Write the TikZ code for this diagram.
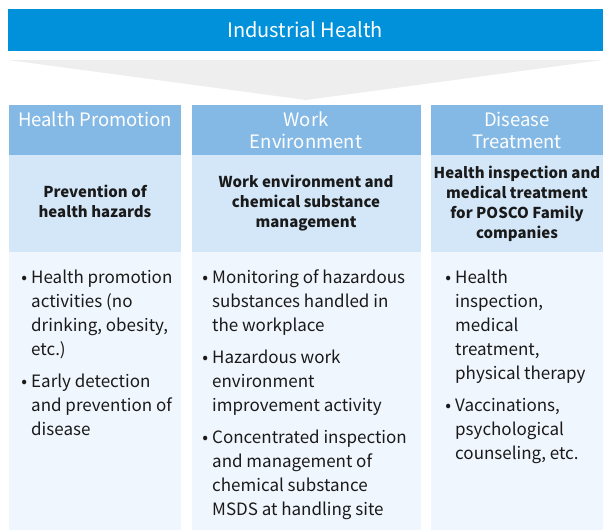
\documentclass[tikz,border=0pt]{standalone}
\usepackage{fontspec}
\setmainfont{Noto Sans CJK KR}
\definecolor{titleblue}{HTML}{0091DA}
\definecolor{headblue}{HTML}{85B9E5}
\definecolor{midblue}{HTML}{D3E7F8}
\definecolor{lowblue}{HTML}{F0F6FD}
\definecolor{funnel}{HTML}{EEEEEE}
\definecolor{txt}{HTML}{1A1A1A}
\tikzset{
  headtxt/.style={text=white, font=\fontsize{18.5}{22}\selectfont, inner sep=0pt, anchor=base},
  midtxt/.style={text=txt, font=\bfseries\fontsize{15}{20}\selectfont, inner sep=0pt, anchor=base},
  bul/.style={text=txt, font=\fontsize{17}{24}\selectfont, inner sep=0pt, anchor=base west},
}
\newcommand{\bu}{\makebox[0pt][r]{•\hspace{4pt}}}
\newcommand{\tl}[1]{\begin{tabular}[t]{@{}l@{}}#1\end{tabular}}
\newcommand{\tc}[1]{\begin{tabular}[t]{@{}c@{}}#1\end{tabular}}
\begin{document}
\begin{tikzpicture}[x=1pt,y=-1pt]
\useasboundingbox (0,0) rectangle (603,530);
% title
\fill[titleblue] (8,9) rectangle (603,51);
\node[text=white, font=\fontsize{20}{24}\selectfont, inner sep=0pt, anchor=base] (title) at (305,37) {Industrial Health};
% funnel
\fill[funnel] (8,60) -- (603,60) -- (306,100) -- cycle;
% columns
\foreach \a/\b in {9/181, 192/421, 431/603}{
  \fill[headblue] (\a,105) rectangle (\b,155);
  \fill[midblue] (\a,155) rectangle (\b,252);
  \fill[lowblue] (\a,252) rectangle (\b,530);
}
% headers
\node[headtxt] (h1) at (95,126) {\tc{Health Promotion}};
\node[headtxt] (h2) at (306,126) {\tc{Work\\Environment}};
\node[headtxt] (h3) at (517,126) {\tc{Disease\\Treatment}};
% middles
\node[midtxt] (m1) at (95,197) {\tc{Prevention of\\health hazards}};
\node[midtxt] (m2) at (306,187) {\tc{Work environment and\\chemical substance\\management}};
\node[midtxt] (m3) at (517,178) {\tc{Health inspection and\\medical treatment\\for POSCO Family\\companies}};
% bullets col1
\node[bul] (b11) at (31,283) {\tl{\bu Health promotion\\activities (no\\drinking, obesity,\\etc.)}};
\node[bul] (b12) at (31,387) {\tl{\bu Early detection\\and prevention of\\disease}};
% col2
\node[bul] (b21) at (212,283) {\tl{\bu Monitoring of hazardous\\substances handled in\\the workplace}};
\node[bul] (b22) at (212,363) {\tl{\bu Hazardous work\\environment\\improvement activity}};
\node[bul] (b23) at (212,443) {\tl{\bu Concentrated inspection\\and management of\\chemical substance\\MSDS at handling site}};
% col3
\node[bul] (b31) at (455,283) {\tl{\bu Health\\inspection,\\medical\\treatment,\\physical therapy}};
\node[bul] (b32) at (455,411) {\tl{\bu Vaccinations,\\psychological\\counseling, etc.}};
\end{tikzpicture}
\end{document}
